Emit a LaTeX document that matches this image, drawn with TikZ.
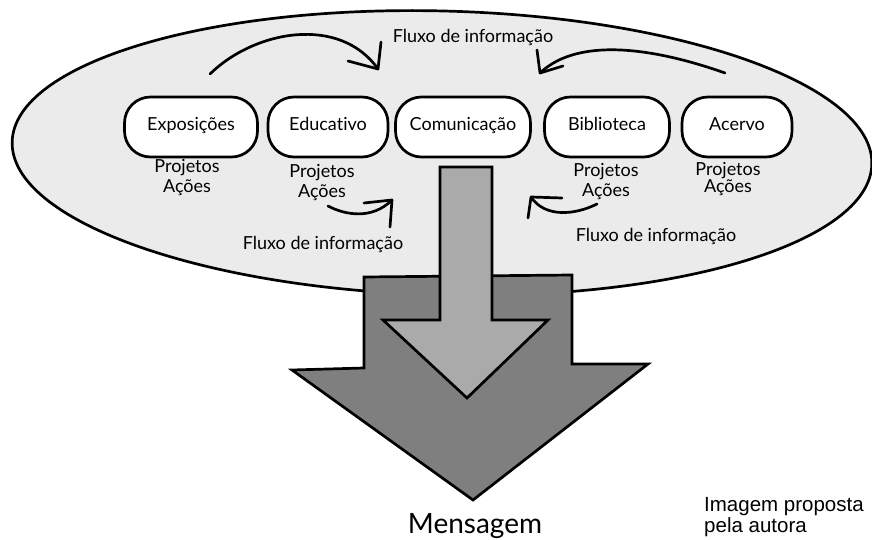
\documentclass[tikz,border=0pt]{standalone}
\usepackage{fontspec}
\setmainfont[Ligatures={NoCommon}]{Lato}
\newfontfamily\arialf{Liberation Sans}
\begin{document}
\begin{tikzpicture}[x=1pt,y=-1pt,
  boxst/.style={draw=black,line width=2.7pt,fill=white,rounded corners=26pt,minimum height=60pt,font=\fontsize{18}{20}\selectfont,inner sep=0pt,text height=12pt,text depth=4pt},
  lbl/.style={font=\fontsize{18}{20}\selectfont,align=center,inner sep=0pt},
  flow/.style={line width=2.7pt,line cap=round,line join=round}]
\useasboundingbox (0,0) rectangle (872,540);
% ellipse
\draw[line width=2.7pt,fill={rgb,255:red,235;green,235;blue,235}] (442,153) ellipse[x radius=430pt,y radius=142pt,rotate=-1.5];
% boxes
\node[boxst,minimum width=133pt] (expo) at (191,127) {Exposições};
\node[boxst,minimum width=120pt] (edu) at (328,127) {Educativo};
\node[boxst,minimum width=135pt] (com) at (463,127) {Comunicação};
\node[boxst,minimum width=125pt] (bib) at (607,127) {Biblioteca};
\node[boxst,minimum width=110pt] (ace) at (737,127) {Acervo};
% sub labels
\node[lbl] (p1) at (187,178) {Projetos\\Ações};
\node[lbl] (p2) at (322,183) {Projetos\\Ações};
\node[lbl] (p4) at (606,182) {Projetos\\Ações};
\node[lbl,font=\fontsize{18}{16}\selectfont] (p5) at (728,179) {Projetos\\Ações};
% flow labels
\node[lbl] (f1) at (473,37) {Fluxo de informação};
\node[lbl] (f2) at (323,244) {Fluxo de informação};
\node[lbl] (f3) at (656,236) {Fluxo de informação};
% top curved arrows
\coordinate (a1s) at (210,74); \coordinate (a1t) at (378,69);
\draw[flow] (a1s) .. controls (255,30) and (340,15) .. (a1t);
\draw[flow] (348,61) -- (a1t) -- (381,42);
\coordinate (a2s) at (725,73); \coordinate (a2t) at (540,73);
\draw[flow] (a2s) .. controls (660,50) and (580,35) .. (a2t);
\draw[flow] (563,66) -- (a2t) -- (537,50);
% lower small arrows
\coordinate (a3s) at (328,206); \coordinate (a3t) at (392,200);
\draw[flow] (a3s) .. controls (345,215) and (372,220) .. (a3t);
\draw[flow] (364,203) -- (a3t) -- (390,227);
\coordinate (a4s) at (597,204); \coordinate (a4t) at (531,197);
\draw[flow] (a4s) .. controls (575,215) and (545,218) .. (a4t);
\draw[flow] (562,198) -- (a4t) -- (528,218);
% big arrow
\draw[line width=2.7pt,line join=miter,fill={rgb,255:red,127;green,127;blue,127}]
  (364,277) -- (572,275) -- (572,364) -- (648,364) -- (473,500) -- (292,370) -- (364,368) -- cycle;
% small arrow
\draw[line width=2.7pt,line join=miter,fill={rgb,255:red,170;green,170;blue,170}]
  (440,167) -- (492,167) -- (492,320) -- (548,320) -- (467,398) -- (383,320) -- (440,320) -- cycle;
\node[font=\fontsize{28}{30}\selectfont,inner sep=0pt] (msg) at (475,526) {Mensagem};
\node[font=\arialf\fontsize{20.5}{21}\selectfont,align=left,anchor=west,inner sep=0pt] (cred) at (704,517) {Imagem proposta\\pela autora};
\end{tikzpicture}
\end{document}
